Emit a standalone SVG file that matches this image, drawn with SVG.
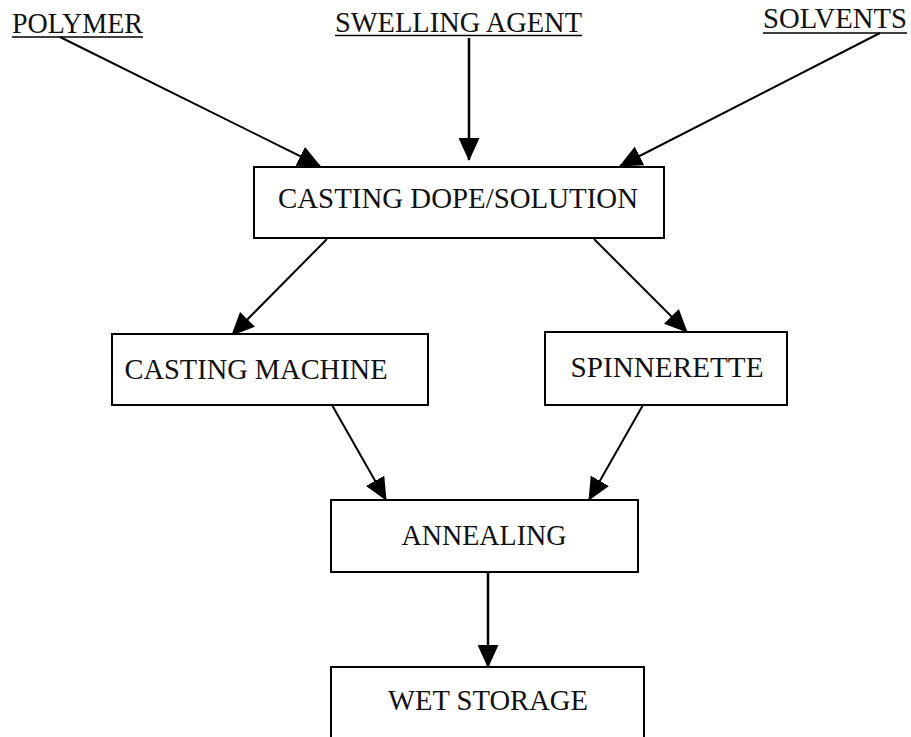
<svg xmlns="http://www.w3.org/2000/svg" width="911" height="737" viewBox="0 0 911 737">
<defs>
<style>
.box{fill:#fff;stroke:#000;stroke-width:2}
.t{font-family:"Liberation Serif","Times New Roman",serif;font-size:29.5px;fill:#111}
.m{text-anchor:middle}
.c{stroke:#000;stroke-width:2;fill:none}
.u{stroke:#000;stroke-width:1.5}
</style>
<marker id="ah" markerUnits="userSpaceOnUse" markerWidth="23" markerHeight="21" refX="22" refY="10.5" orient="auto" viewBox="0 0 23 21">
<path d="M0,0 L23,10.5 L0,21 z" fill="#000"/>
</marker>
</defs>
<rect width="911" height="737" fill="#fff"/>
<g id="connectors">
<line class="c" x1="60" y1="37" x2="320" y2="166" marker-end="url(#ah)"/>
<line class="c" x1="469" y1="38" x2="469" y2="160" marker-end="url(#ah)" style="stroke-width:2.5"/>
<line class="c" x1="880" y1="33" x2="620" y2="166" marker-end="url(#ah)"/>
<line class="c" x1="327" y1="239" x2="232" y2="335" marker-end="url(#ah)"/>
<line class="c" x1="594" y1="239" x2="687" y2="332" marker-end="url(#ah)"/>
<line class="c" x1="332" y1="405" x2="386" y2="500" marker-end="url(#ah)"/>
<line class="c" x1="643" y1="405" x2="589" y2="500" marker-end="url(#ah)"/>
<line class="c" x1="488" y1="572" x2="488" y2="667" marker-end="url(#ah)" style="stroke-width:2.5"/>
</g>
<g id="polymer">
<text class="t" x="12" y="33" textLength="131" lengthAdjust="spacingAndGlyphs">POLYMER</text>
<line class="u" x1="12" y1="37" x2="143" y2="37"/>
</g>
<g id="swelling-agent">
<text class="t" x="335" y="32" textLength="247" lengthAdjust="spacingAndGlyphs">SWELLING AGENT</text>
<line class="u" x1="335" y1="35.5" x2="582" y2="35.5"/>
</g>
<g id="solvents">
<text class="t" x="763" y="28" textLength="144" lengthAdjust="spacingAndGlyphs">SOLVENTS</text>
<line class="u" x1="763" y1="33" x2="907" y2="33"/>
</g>
<g id="casting-dope">
<rect class="box" x="254" y="167" width="410" height="71"/>
<text class="t m" x="458" y="208" textLength="360" lengthAdjust="spacingAndGlyphs">CASTING DOPE/SOLUTION</text>
</g>
<g id="casting-machine">
<rect class="box" x="112" y="334" width="316" height="71"/>
<text class="t m" x="256" y="379" textLength="263" lengthAdjust="spacingAndGlyphs">CASTING MACHINE</text>
</g>
<g id="spinnerette">
<rect class="box" x="545" y="332" width="242" height="73"/>
<text class="t m" x="667" y="377" textLength="193" lengthAdjust="spacingAndGlyphs">SPINNERETTE</text>
</g>
<g id="annealing">
<rect class="box" x="331" y="500" width="307" height="72"/>
<text class="t m" x="484" y="545" textLength="165" lengthAdjust="spacingAndGlyphs">ANNEALING</text>
</g>
<g id="wet-storage">
<rect class="box" x="331" y="667" width="313" height="90"/>
<text class="t m" x="488" y="710" textLength="200" lengthAdjust="spacingAndGlyphs">WET STORAGE</text>
</g>
</svg>
